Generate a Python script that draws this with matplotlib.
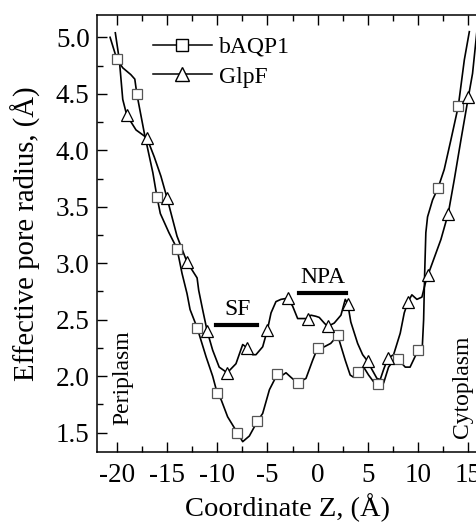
import matplotlib
matplotlib.use("Agg")
import matplotlib.pyplot as plt
from matplotlib.lines import Line2D
from matplotlib.ticker import MultipleLocator, FuncFormatter, FormatStrFormatter

plt.rcParams['font.family'] = ['Liberation Serif', 'DejaVu Serif']

# bAQP1 profile (traced curve) and its marker points
aqp_z = [-20.66, -20.0, -19.4, -18.6, -18.2, -18.0, -17.25, -16.4, -16.0, -15.66, -14.8,
         -14.0, -13.5, -13.0, -12.7, -12.0, -11.1, -10.45, -10.0, -9.6, -8.96, -8.0,
         -7.46, -6.8, -6.0, -5.47, -4.8, -4.0, -3.48, -3.15, -2.66, -2.0, -1.16, -0.5,
         0.0, 0.66, 1.3, 2.0, 2.75, 3.24, 3.58, 4.0, 4.58, 5.07, 5.57, 6.0, 6.57, 7.06,
         7.56, 8.0, 8.72, 9.2, 10.0, 10.38, 10.55, 10.65, 10.77, 10.94, 11.44, 12.0,
         12.6, 13.26, 14.0, 14.6, 15.1]
aqp_r = [5.00, 4.81, 4.73, 4.67, 4.63, 4.50, 4.15, 3.80, 3.59, 3.44, 3.27,
         3.13, 2.91, 2.73, 2.59, 2.43, 2.17, 2.00, 1.85, 1.79, 1.64, 1.50,
         1.42, 1.47, 1.60, 1.67, 1.88, 2.02, 2.01, 2.03, 1.99, 1.94, 1.98, 2.14,
         2.25, 2.26, 2.29, 2.36, 2.14, 2.01, 1.99, 2.04, 2.08, 2.01, 1.95, 1.93, 1.94, 2.08,
         2.14, 2.15, 2.08, 2.08, 2.23, 2.19, 2.50, 2.90, 3.27, 3.41, 3.56, 3.67,
         3.83, 4.09, 4.39, 4.80, 5.05]
aqp_mz = [-20, -18, -16, -14, -12, -10, -8, -6, -4, -2, 0, 2, 4, 6, 8, 10, 12, 14]
aqp_mr = [4.81, 4.50, 3.59, 3.13, 2.43, 1.85, 1.50, 1.60, 2.02, 1.94, 2.25, 2.36,
          2.04, 1.93, 2.15, 2.23, 3.67, 4.39]

# GlpF profile (traced curve) and its marker points
glp_z = [-20.14, -19.74, -19.4, -19.0, -18.08, -17.0, -16.26, -15.6, -15.0, -14.5, -14.0,
         -13.0, -12.0, -11.84, -11.45, -11.0, -10.45, -9.8, -9.0, -8.13, -7.46, -7.0,
         -6.47, -6.14, -5.47, -5.0, -4.64, -4.15, -3.65, -3.0, -2.49, -1.99, -1.0, -0.67,
         -0.17, 0.16, 0.66, 1.0, 1.65, 2.32, 2.75, 3.0, 3.3, 3.98, 4.48, 5.0, 5.4, 5.9,
         6.23, 6.57, 7.0, 7.56, 8.22, 8.62, 9.0, 9.38, 9.88, 10.38, 10.71, 11.0, 12.27,
         13.0, 13.6, 14.26, 15.0, 15.42, 15.85]
glp_r = [5.04, 4.80, 4.45, 4.31, 4.18, 4.11, 3.94, 3.77, 3.58, 3.41, 3.24,
         3.01, 2.87, 2.76, 2.59, 2.40, 2.23, 2.08, 2.03, 2.11, 2.28, 2.25,
         2.19, 2.19, 2.26, 2.41, 2.56, 2.66, 2.68, 2.69, 2.62, 2.51, 2.51, 2.54,
         2.53, 2.52, 2.47, 2.44, 2.47, 2.54, 2.68, 2.64, 2.48, 2.29, 2.19, 2.13, 2.06, 1.98,
         1.97, 2.06, 2.16, 2.19, 2.38, 2.56, 2.66, 2.72, 2.68, 2.70, 2.82, 2.90, 3.21,
         3.44, 3.74, 4.09, 4.47, 4.68, 5.05]
glp_mz = [-19, -17, -15, -13, -11, -9, -7, -5, -3, -1, 1, 3, 5, 7, 9, 11, 13, 15]
glp_mr = [4.31, 4.11, 3.58, 3.01, 2.40, 2.03, 2.25, 2.41, 2.69, 2.51, 2.44, 2.64,
          2.13, 2.16, 2.66, 2.90, 3.44, 4.47]

fig = plt.figure(figsize=(4.76, 5.26), dpi=100)
ax = fig.add_axes([0.203, 0.141, 0.802, 0.831])

ax.plot(aqp_z, aqp_r, color='black', lw=1.2, zorder=2)
ax.plot(glp_z, glp_r, color='black', lw=1.2, zorder=2)
ax.plot(aqp_mz, aqp_mr, ls='none', marker='s', ms=6.5, mfc='white', mec='#555555',
        mew=0.9, zorder=3)
ax.plot(glp_mz, glp_mr, ls='none', marker='^', ms=8, mfc='white', mec='black',
        mew=0.9, zorder=3)

ax.set_xlim(-22, 16)
ax.set_ylim(1.33, 5.2)
ax.xaxis.set_major_locator(MultipleLocator(5))
ax.xaxis.set_minor_locator(MultipleLocator(2.5))
ax.yaxis.set_major_locator(MultipleLocator(0.5))
ax.yaxis.set_minor_locator(MultipleLocator(0.25))
ax.tick_params(which='both', direction='in', top=True, right=False, labelsize=19.5)
ax.tick_params(which='major', length=7, width=1)
ax.tick_params(which='minor', length=4, width=1)
ax.tick_params(axis='x', pad=8)
ax.tick_params(axis='y', pad=5)
ax.xaxis.set_major_formatter(FuncFormatter(lambda v, p: '%d' % v))
ax.yaxis.set_major_formatter(FormatStrFormatter('%.1f'))
for s in ax.spines.values():
    s.set_linewidth(1.1)

ax.set_xlabel('Coordinate Z, (Å)', fontsize=20.5, labelpad=4)
ax.set_ylabel('Effective pore radius, (Å)', fontsize=20.7, labelpad=11)

# annotations
ax.plot([-10.15, -6.0], [2.455, 2.455], color='black', lw=3)
ax.text(-8.0, 2.59, 'SF', ha='center', va='center', fontsize=17)
ax.plot([-1.85, 2.8], [2.74, 2.74], color='black', lw=3)
ax.text(0.5, 2.87, 'NPA', ha='center', va='center', fontsize=17)
ax.text(-19.4, 1.99, 'Periplasm', rotation=90, ha='center', va='center', fontsize=17)
ax.text(14.45, 1.91, 'Cytoplasm', rotation=90, ha='center', va='center', fontsize=17)

handles = [
    Line2D([], [], color='black', lw=1.1, marker='s', ms=8, mfc='white', mec='black'),
    Line2D([], [], color='black', lw=1.1, marker='^', ms=10, mfc='white', mec='black'),
]
ax.legend(handles, ['bAQP1', 'GlpF'], loc='upper left', frameon=False, fontsize=17,
          handlelength=2.5, handletextpad=0.3, labelspacing=0.35,
          bbox_to_anchor=(0.091, 0.999))

fig.savefig('out.png', dpi=100)
